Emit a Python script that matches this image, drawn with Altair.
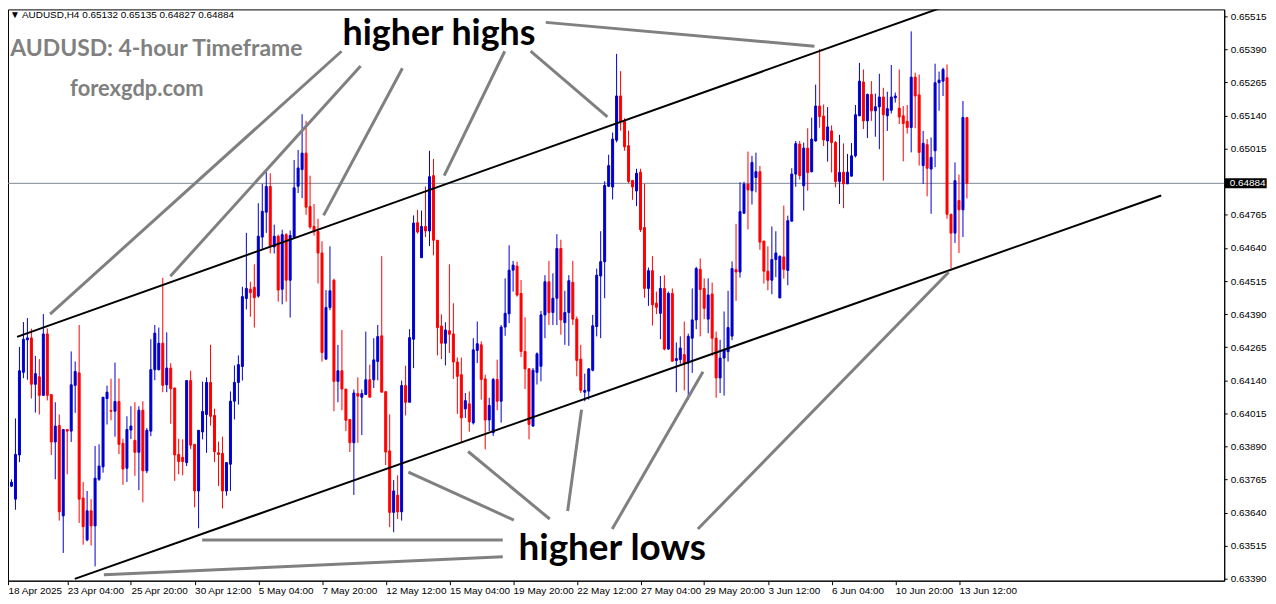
import altair as alt
import pandas as pd

# ---- OHLC data, prices in points (1 point = 0.00001) ----
open_pts = [
63691,63734,63740,63691,63858,64170,64293,64300,64125,64153,
64083,64315,64086,63907,63969,63628,63954,63948,64121,64168,
63695,63537,63647,63590,63766,63813,64071,64026,64023,64060,
63902,63808,63952,63913,63868,64027,63798,63948,64180,64180,
64280,64123,64186,64111,63860,63849,63829,64139,63898,63722,
63945,64011,64132,64007,63866,63864,63722,63823,64061,64132,
64192,64449,64484,64491,64458,64681,64775,64872,64644,64684,
64484,64690,64518,64681,64873,64936,64998,64796,64721,64702,
64621,64220,64415,64518,64136,64176,64107,63992,63904,64090,
64076,64086,64142,64142,64211,64308,64097,63873,63641,63706,
63643,64120,64057,64295,64735,64603,64721,64704,64913,64669,
64345,64280,64327,64315,64209,64161,64032,64051,63979,64253,
64274,64145,63990,63942,64143,64061,64341,64391,64556,64571,
64468,64249,64183,63967,64170,64193,64387,64512,64396,64450,
64638,64358,64396,64510,64371,64220,64095,64099,64178,64343,
64534,64588,64873,64870,65047,65214,65118,65026,64895,64855,
64926,64717,64487,64554,64431,64393,64487,64258,64468,64215,
64218,64237,64205,64299,64368,64559,64487,64371,64466,64299,
64149,64224,64248,64307,64558,64549,64771,64881,64856,64906,
64928,64666,64552,64518,64596,64451,64606,64555,64741,64919,
65032,64875,65017,64928,65044,65176,65138,65044,65082,65038,
64891,64926,64882,64911,64988,65139,65267,65120,65220,65158,
65173,65210,65139,65160,65207,65168,65139,65118,65095,65285,
65218,64951,65030,64938,65007,65264,65270,65283,64767,64696,
64819,64784,65132]
high_pts = [
63780,63756,63766,63996,64266,64360,64375,64335,64232,64220,
64390,64336,64086,64057,64011,63954,63954,64249,64211,64349,
63756,63722,63691,63892,63898,64076,64120,64146,64207,64147,
63919,64004,64042,64057,64042,64061,63960,64295,64349,64339,
64527,64321,64205,64111,63919,63917,64139,64176,63898,63951,
64135,64151,64274,64033,63908,63927,63829,64098,64196,64234,
64493,64697,64512,64578,64809,64882,64926,64922,64728,64690,
64709,64696,64706,64972,65010,65145,65120,64913,64806,64750,
64665,64481,64646,64524,64274,64330,64107,63992,64105,64151,
64105,64324,64199,64299,64349,64609,64097,64011,63763,63781,
64139,64195,64333,64763,64784,64781,64872,65007,64976,64669,
64389,64359,64578,64431,64226,64226,64092,64098,64299,64362,
64287,64161,64074,64149,64218,64349,64525,64650,64591,64588,
64519,64378,64186,64186,64245,64402,64537,64591,64544,64692,
64671,64478,64537,64591,64381,64274,64165,64186,64387,64562,
64703,64892,64992,65076,65373,65308,65130,65083,64895,64939,
64939,64882,64566,64609,64475,64534,64537,64475,64487,64283,
64306,64362,64316,64487,64569,64600,64525,64525,64509,64324,
64293,64400,64478,64589,64731,64888,64890,65004,64988,65000,
64950,64666,64646,64721,64703,64612,64800,64762,64941,65044,
65044,65038,65092,65132,65257,65391,65182,65172,65103,65044,
65067,65035,64995,65036,65180,65339,65314,65223,65270,65223,
65298,65245,65230,65331,65227,65314,65176,65180,65458,65302,
65295,65082,65051,65057,65336,65306,65321,65333,64769,64963,
64917,65195,65135]
low_pts = [
63685,63694,63737,63651,63831,64148,64142,64071,64018,64011,
64083,64064,63858,63766,63610,63488,63785,63907,64017,63601,
63519,63532,63516,63437,63760,63791,63973,63989,63927,63861,
63745,63756,63918,63779,63725,63679,63789,63929,64140,64177,
64095,64095,63976,63760,63785,63781,63816,63880,63660,63581,
63917,63866,63969,63831,63741,63656,63704,63722,63992,64048,
64139,64408,64380,64339,64452,64637,64697,64619,64619,64437,
64427,64437,64377,64675,64847,64828,64765,64712,64687,64506,
64211,64217,64405,64023,64057,64027,63948,63869,63707,63904,
63933,64086,64076,64111,64140,64095,63820,63585,63566,63616,
63610,64007,64057,64186,64694,64603,64681,64647,64612,64234,
64220,64196,64243,64145,64013,63904,63998,63946,63973,64205,
64067,63879,63948,63930,64027,63980,64308,64356,64475,64456,
64228,64107,63917,63965,64124,64136,64299,64349,64349,64349,
64312,64274,64270,64349,64155,64092,64061,64067,64174,64306,
64299,64450,64870,64823,65039,65083,65007,64885,64822,64798,
64700,64452,64421,64347,64390,64295,64253,64255,64212,64095,
64203,64102,64067,64168,64333,64306,64371,64318,64233,64074,
64092,64082,64211,64292,64440,64528,64771,64710,64804,64850,
64633,64505,64480,64465,64530,64451,64524,64499,64741,64871,
64898,64781,64856,64925,65042,65094,65025,64966,64925,64869,
64806,64790,64882,64911,64982,65139,65089,65055,65120,65060,
65013,64894,65082,65148,65189,65108,64967,65072,65001,65092,
64951,64882,64835,64769,64945,65158,65214,64750,64562,64659,
64621,64681,64827]
close_pts = [
63773,63739,63755,63860,64176,64295,64300,64125,64165,64083,
64315,64083,63907,63967,63643,63954,63948,64123,64173,63691,
63587,63647,63590,63770,63816,64076,64095,64023,64060,63898,
63805,63954,63967,63868,64027,63798,63951,64180,64318,64280,
64121,64186,64108,63858,63833,63833,64139,63895,63722,63951,
64022,64132,64004,63870,63860,63722,63829,64061,64132,64199,
64456,64487,64471,64452,64684,64778,64872,64644,64684,64481,
64690,64518,64687,64867,64942,64998,64794,64719,64702,64621,
64245,64415,64478,64136,64176,64107,63989,63904,64092,64080,
64090,64142,64076,64217,64305,64095,63869,63641,63722,63643,
64120,64057,64301,64734,64700,64721,64704,64909,64669,64339,
64280,64330,64314,64209,64155,63998,64063,63983,64255,64278,
64143,63990,64045,64143,64061,64341,64393,64556,64575,64462,
64249,64183,63973,64178,64240,64387,64512,64396,64450,64638,
64368,64396,64516,64371,64215,64102,64102,64183,64346,64537,
64588,64876,64951,65051,65214,65118,65022,64891,64870,64922,
64709,64487,64554,64425,64416,64487,64258,64468,64212,64222,
64262,64205,64306,64368,64562,64483,64412,64462,64299,64149,
64224,64255,64339,64562,64549,64777,64881,64859,64963,64928,
64662,64552,64518,64596,64621,64608,64559,64743,64919,65034,
64913,65017,64925,65051,65176,65136,65048,65097,65038,64891,
64925,64882,64926,64988,65143,65270,65120,65220,65158,65173,
65210,65143,65166,65210,65214,65135,65110,65095,65285,65214,
65001,65035,64941,64982,65264,65274,65314,64767,64696,64894,
64784,65133,64884]

# ---- axis labels ----
time_tick_bars = [0, 16, 32, 48, 64, 80, 96, 112, 128, 144, 160, 176, 192, 208, 224, 240]
time_tick_labels = ["18 Apr 2025", "23 Apr 04:00", "25 Apr 20:00", "30 Apr 12:00",
                    "5 May 04:00", "7 May 20:00", "12 May 12:00", "15 May 04:00",
                    "19 May 20:00", "22 May 12:00", "27 May 04:00", "29 May 20:00",
                    "3 Jun 12:00", "6 Jun 04:00", "10 Jun 20:00", "13 Jun 12:00"]
price_ticks = [0.63390, 0.63515, 0.63640, 0.63765, 0.63890, 0.64015, 0.64140, 0.64265,
               0.64390, 0.64515, 0.64640, 0.64765, 0.65015, 0.65140, 0.65265,
               0.65390, 0.65515]
last_price = 0.64884

# channel lines (bar index, price)
channel_bar_a = [3.4, 17.9]
channel_price_a = [0.64304, 0.63390]
channel_bar_b = [237.9, 290.8]
channel_price_b = [0.65560, 0.64838]

# pointer lines (bar index, price) start -> end
ptr_bar_a = [84.9, 89.7, 100.2, 125.9, 132.4, 136.2, 101.7, 49.9, 25.2, 116.7, 145.2, 175.7, 237.4]
ptr_price_a = [0.65383, 0.65327, 0.65319, 0.65383, 0.65383, 0.65492, 0.63793, 0.63537,
               0.63405, 0.63871, 0.64029, 0.64172, 0.64548]
ptr_bar_b = [11.7, 41.9, 80.4, 110.7, 151.7, 203.7, 128.2, 125.4, 125.4, 137.2, 141.7, 152.9, 174.4]
ptr_price_b = [0.64390, 0.64533, 0.64763, 0.64913, 0.65135, 0.65402, 0.63612, 0.63537,
               0.63473, 0.63616, 0.63646, 0.63578, 0.63578]

# ---- frames ----
n = len(open_pts)
df = pd.DataFrame({
    "bar": list(range(n)),
    "open": [v / 1e5 for v in open_pts],
    "high": [max(h, o, c) / 1e5 for h, o, c in zip(high_pts, open_pts, close_pts)],
    "low": [min(l, o, c) / 1e5 for l, o, c in zip(low_pts, open_pts, close_pts)],
    "close": [v / 1e5 for v in close_pts],
})
df["dir"] = ["up" if c >= o else "down" for o, c in zip(df["open"], df["close"])]

X0, X1 = 1.125, 306.625
Y0, Y1 = 0.63383, 0.65541
xs = alt.Scale(domain=[X0, X1], nice=False, zero=False, padding=0)
ys = alt.Scale(domain=[Y0, Y1], nice=False, zero=False, padding=0)
cscale = alt.Scale(domain=["up", "down"], range=["#0000cd", "#ff0000"])

label_arr = "[" + ",".join("'" + s + "'" for s in time_tick_labels) + "]"
x_axis = alt.Axis(values=[max(v, X0) for v in time_tick_bars],
                  labelExpr=label_arr + "[round(datum.value/16)]",
                  title=None, grid=False, labelAlign="left", labelFlush=False,
                  labelOverlap=False, tickSize=4, labelPadding=1, domainColor="black",
                  tickColor="black", labelColor="black", labelFont="Liberation Sans",
                  labelFontSize=10, labelBaseline="top")
y_axis = alt.Axis(values=price_ticks, format=".5f", orient="right", title=None,
                  grid=False, tickSize=3, labelPadding=3, domainColor="black",
                  tickColor="black", labelColor="black", labelFont="Liberation Sans",
                  labelFontSize=10, labelOverlap=False, labelFlush=False)


def X(field):
    return alt.X(field, scale=xs, axis=x_axis)


def Y(field):
    return alt.Y(field, scale=ys, axis=y_axis)


base = alt.Chart(df)

bid = alt.Chart(pd.DataFrame({"p": [last_price]})).mark_rule(
    color="#7d8793", strokeWidth=1).encode(y=Y("p:Q"))

wicks = base.mark_rule(strokeWidth=1).encode(
    x=X("bar:Q"), y=Y("low:Q"), y2="high:Q",
    color=alt.Color("dir:N", scale=cscale, legend=None),
)
bodies = base.mark_bar(width=2, strokeWidth=1).encode(
    x=X("bar:Q"), y=Y("open:Q"), y2="close:Q",
    color=alt.Color("dir:N", scale=cscale, legend=None),
    stroke=alt.Stroke("dir:N", scale=cscale, legend=None),
)

chan_df = pd.DataFrame({"a": channel_bar_a, "pa": channel_price_a,
                        "b": channel_bar_b, "pb": channel_price_b})
channels = alt.Chart(chan_df).mark_rule(color="black", strokeWidth=2, clip=True).encode(
    x=X("a:Q"), y=Y("pa:Q"), x2="b:Q", y2="pb:Q")

ptr_df = pd.DataFrame({"a": ptr_bar_a, "pa": ptr_price_a, "b": ptr_bar_b, "pb": ptr_price_b})
pointers = alt.Chart(ptr_df).mark_rule(color="#808080", strokeWidth=3, clip=True).encode(
    x=X("a:Q"), y=Y("pa:Q"), x2="b:Q", y2="pb:Q")

# price label box at right axis
box = alt.Chart(pd.DataFrame({"a": [306.75], "b": [317.3], "p1": [last_price - 0.00019],
                              "p2": [last_price + 0.00019]})).mark_rect(color="black").encode(
    x=X("a:Q"), x2="b:Q", y=Y("p1:Q"), y2="p2:Q")
box_text = alt.Chart(pd.DataFrame({"a": [308.0], "p": [last_price], "t": ["0.64884"]})).mark_text(
    align="left", baseline="middle", color="white", font="Liberation Sans", fontSize=10).encode(
    x=X("a:Q"), y=Y("p:Q"), text="t:N")


def label(txt, bar, price, align, size, color, font, weight="bold", baseline="alphabetic"):
    return alt.Chart(pd.DataFrame({"a": [bar], "p": [price], "t": [txt]})).mark_text(
        align=align, baseline=baseline, fontSize=size, color=color, font=font,
        fontWeight=weight).encode(x=X("a:Q"), y=Y("p:Q"), text="t:N")


info = label("\u25bc AUDUSD,H4  0.65132 0.65135 0.64827 0.64884", 1.6, 0.65521, "left", 10,
             "black", "Liberation Sans", weight="normal", baseline="middle")
title = label("AUDUSD: 4-hour Timeframe", 1.7, 0.65364, "left", 23, "#808080", "Lato")
site = label("forexgdp.com", 33.5, 0.65214, "center", 22, "#808080", "Lato")
hh = label("higher highs", 109.4, 0.65407, "center", 36, "black", "Lato")
hl = label("higher lows", 152.9, 0.63462, "center", 37, "black", "Lato")

chart = alt.layer(bid, wicks, bodies, channels, pointers, box, box_text,
                  info, title, site, hh, hl).properties(
    width=1222, height=574,
    autosize=alt.AutoSizeParams(type="none"),
    padding={"left": 0, "top": 0, "right": 44, "bottom": 20},
    background="white",
).configure_view(stroke="black", strokeWidth=1)

chart.save("out.html", embed_options={"renderer": "svg", "actions": False})
